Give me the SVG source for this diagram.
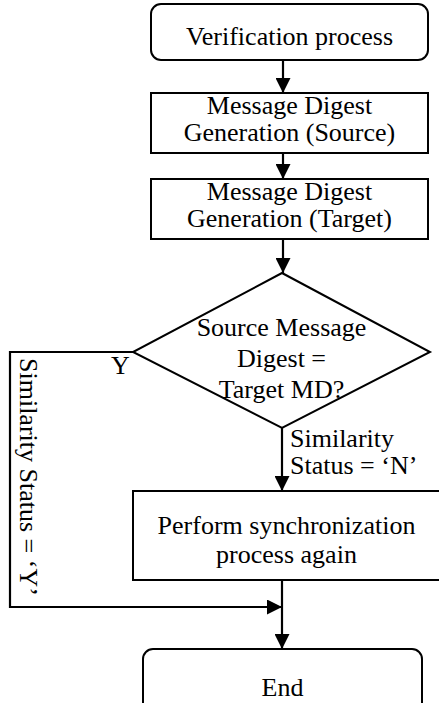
<svg xmlns="http://www.w3.org/2000/svg" width="439" height="703" viewBox="0 0 439 703">
  <style>
    .box { fill: #ffffff; stroke: #000000; stroke-width: 2; }
    .t { font-family: "Liberation Serif", "Times New Roman", serif; font-size: 26px; fill: #000000; }
    .c { text-anchor: middle; }
    .ln { fill: none; stroke: #000000; stroke-width: 2.2; }
  </style>
  <defs>
    <marker id="ah" markerUnits="userSpaceOnUse" markerWidth="16" markerHeight="15" refX="15" refY="7.5" orient="auto">
      <path d="M0,0 L15,7.5 L0,15 z" fill="#000000"/>
    </marker>
  </defs>
  <rect width="439" height="703" fill="#ffffff"/>

  <g id="connectors">
    <line class="ln" x1="283" y1="60" x2="283" y2="93" marker-end="url(#ah)"/>
    <line class="ln" x1="283" y1="153" x2="283" y2="179" marker-end="url(#ah)"/>
    <line class="ln" x1="283" y1="239" x2="283" y2="273" marker-end="url(#ah)"/>
    <line class="ln" x1="282" y1="428" x2="282" y2="491" marker-end="url(#ah)"/>
    <line class="ln" x1="282" y1="580" x2="282" y2="649" marker-end="url(#ah)"/>
    <polyline class="ln" points="133,352 10,352 10,607 282,607" marker-end="url(#ah)"/>
    <text class="t" x="111" y="374">Y</text>
    <text class="t" x="290" y="447">Similarity</text>
    <text class="t" x="290" y="474">Status = ‘N’</text>
    <text class="t" transform="translate(20,358) rotate(90)">Similarity Status = ‘Y’</text>
  </g>

  <g id="n-start">
    <rect class="box" x="151" y="4" width="277" height="56" rx="10" ry="10"/>
    <text class="t c" x="289.5" y="45">Verification process</text>
  </g>

  <g id="n-md-source">
    <rect class="box" x="151" y="93" width="277" height="60"/>
    <text class="t c" x="289.5" y="114">Message Digest</text>
    <text class="t c" x="289.5" y="141">Generation (Source)</text>
  </g>

  <g id="n-md-target">
    <rect class="box" x="151" y="179" width="277" height="60"/>
    <text class="t c" x="289.5" y="200">Message Digest</text>
    <text class="t c" x="289.5" y="227">Generation (Target)</text>
  </g>

  <g id="n-decision">
    <polygon class="box" points="282,273 430,352 282,428 133,352"/>
    <text class="t c" x="281.5" y="336">Source Message</text>
    <text class="t c" x="281.5" y="367">Digest =</text>
    <text class="t c" x="281.5" y="398">Target MD?</text>
  </g>

  <g id="n-sync">
    <rect class="box" x="133" y="491" width="310" height="89"/>
    <text class="t c" x="286.5" y="534">Perform synchronization</text>
    <text class="t c" x="286.5" y="563">process again</text>
  </g>

  <g id="n-end">
    <rect class="box" x="143" y="649" width="279" height="70" rx="10" ry="10"/>
    <text class="t c" x="282.5" y="696">End</text>
  </g>
</svg>
